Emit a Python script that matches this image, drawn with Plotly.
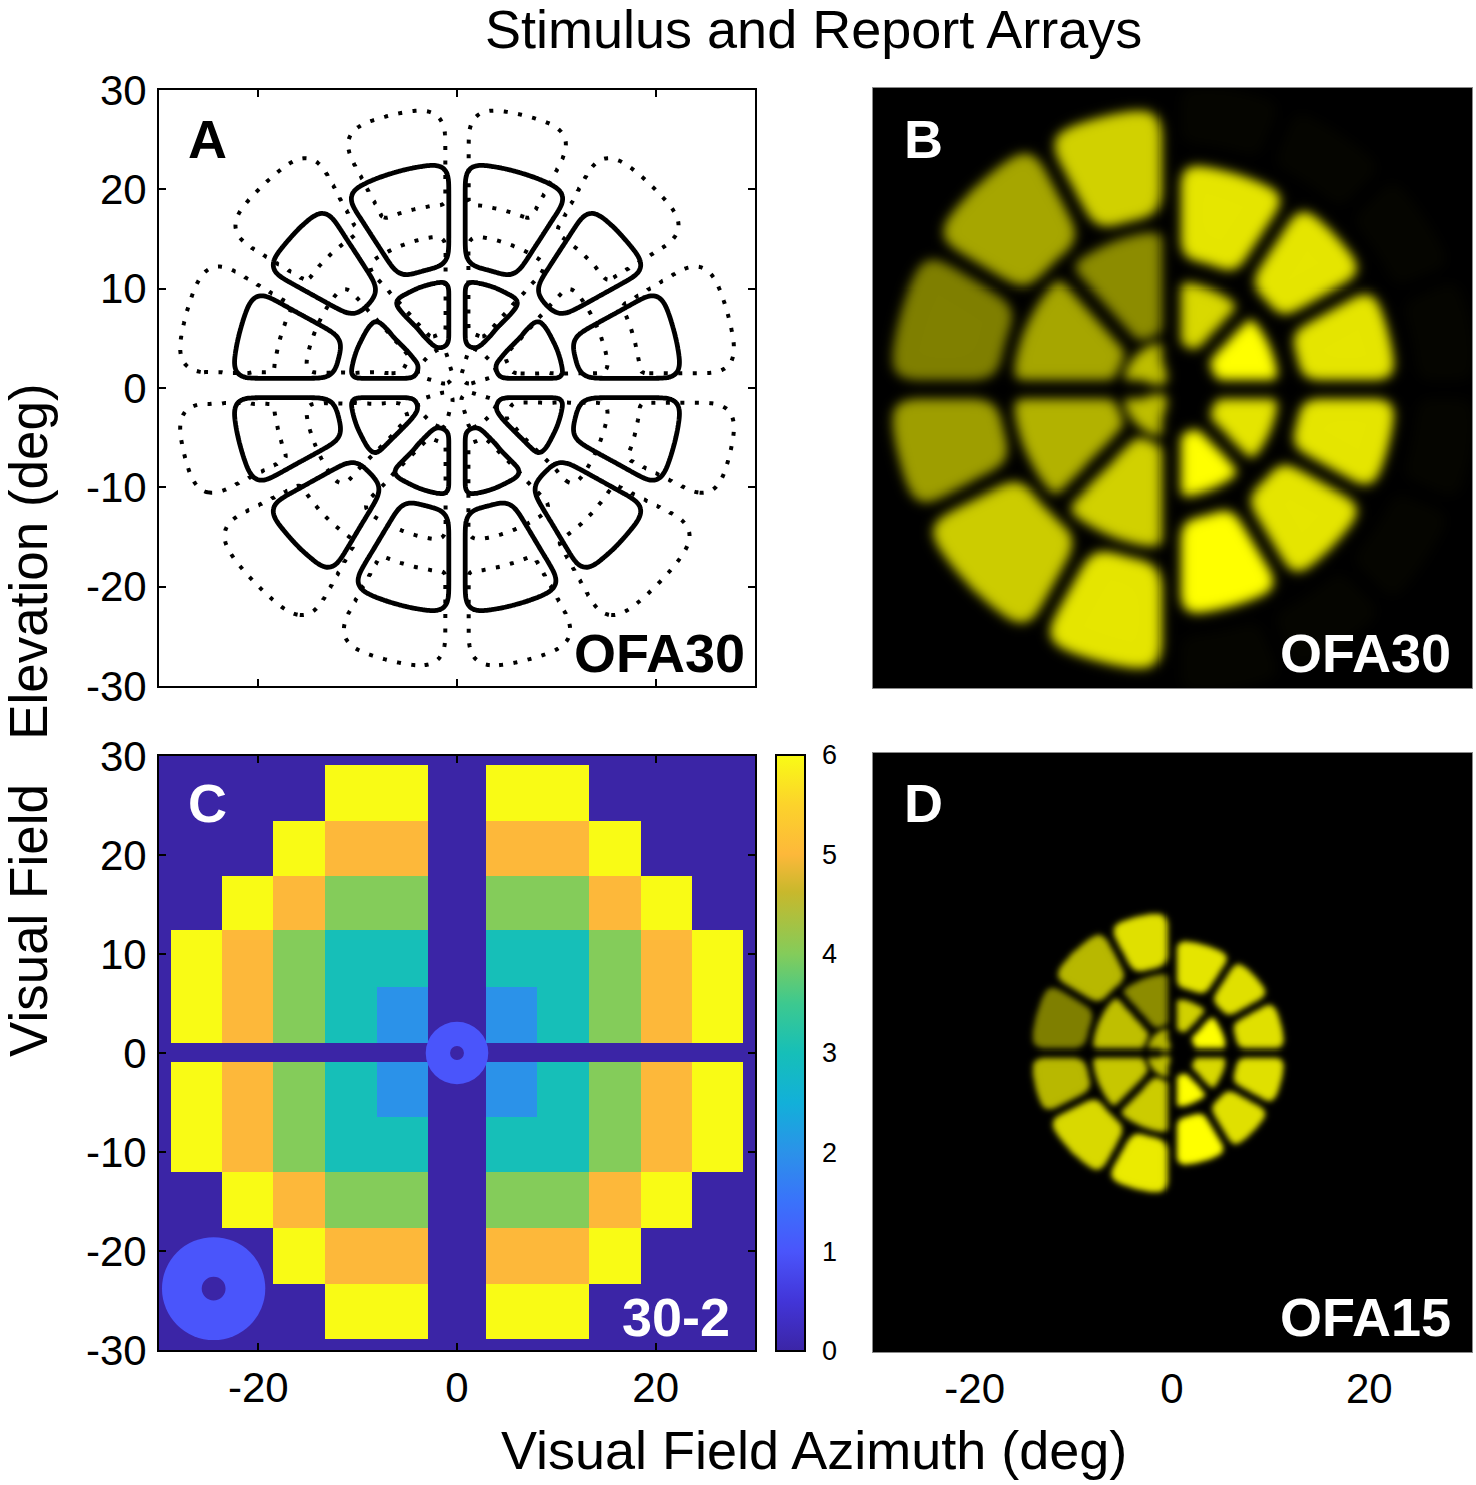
import numpy as np
import plotly.graph_objects as go

W, H = 1476, 1485
FONT = "Liberation Sans"

# Panel C: cell edges and report array levels (deg)
c_x_edges = [-30, -28.8, -23.7, -18.5, -13.3, -8.1, -2.9, 2.9, 8.1, 13.3, 18.5, 23.7, 28.8, 30]
c_y_edges = [-30, -28.9, -23.3, -17.7, -12.0, -6.5, -0.9, 1.0, 6.7, 12.4, 17.9, 23.4, 29.1, 30]
c_levels = [
    [0, 0, 0, 0, 0, 0, 0, 0, 0, 0, 0, 0, 0],
    [0, 0, 0, 0, 6, 6, 0, 6, 6, 0, 0, 0, 0],
    [0, 0, 0, 6, 5, 5, 0, 5, 5, 6, 0, 0, 0],
    [0, 0, 6, 5, 4, 4, 0, 4, 4, 5, 6, 0, 0],
    [0, 6, 5, 4, 3, 3, 0, 3, 3, 4, 5, 6, 0],
    [0, 6, 5, 4, 3, 2, 0, 2, 3, 4, 5, 6, 0],
    [0, 0, 0, 0, 0, 0, 0, 0, 0, 0, 0, 0, 0],
    [0, 6, 5, 4, 3, 2, 0, 2, 3, 4, 5, 6, 0],
    [0, 6, 5, 4, 3, 3, 0, 3, 3, 4, 5, 6, 0],
    [0, 0, 6, 5, 4, 4, 0, 4, 4, 5, 6, 0, 0],
    [0, 0, 0, 6, 5, 5, 0, 5, 5, 6, 0, 0, 0],
    [0, 0, 0, 0, 6, 6, 0, 6, 6, 0, 0, 0, 0],
    [0, 0, 0, 0, 0, 0, 0, 0, 0, 0, 0, 0, 0],
]
# Report discs: centre x, centre y, outer radius, hole radius
disc_x = [0, -24.5]
disc_y = [0, -23.8]
disc_r = [3.15, 5.2]
hole_r = [0.7, 1.2]

# OFA30 sector geometry: radii and angle edges per ring (deg)
left_radii = [(1.0, 4.9), (5.7, 16.0), (17.5, 28.5)]
left_edges = [[90, 180, 270],
              [90, 132, 180, 226, 270],
              [90, 118, 149, 180, 207, 241, 270]]
right_radii = [(4.6, 10.9), (13.2, 22.8), (25.0, 31.0)]
right_edges = [[-90, -46, 0, 47, 90],
               [-90, -59, -29, 0, 29, 57, 90],
               [-90, -67.5, -45, -22.5, 0, 22.5, 45, 67.5, 90]]

# Panel A outlines: radii, corner rounding and half gaps (interior, horizontal, vertical)
dotted_radii = [(1.0, 4.3), (5.7, 15.4), (18.5, 28.3)]
solid_radii = [(4.3, 10.8), (12.3, 22.6)]
dotted_round = [0.3, 0.6, 1.5]
solid_round = [0.45, 0.9]
dotted_gaps = (1.4, 1.5, 1.15)
solid_gaps = (1.15, 0.95, 0.8)

# Corner rounding per ring of the stimuli (deg)
left_round = [0.25, 0.5, 1.2]
right_round = [0.4, 0.9, 0.7]

# Brightness of each sector, counted anticlockwise from the first edge
b_left = [[0.75, 0.75],
          [0.55, 0.65, 0.70, 0.82],
          [0.82, 0.65, 0.50, 0.62, 0.80, 0.90]]
b_right = [[1.00, 0.90, 1.00, 0.85],
           [1.00, 0.90, 0.90, 0.90, 0.90, 0.90],
           [0.02, 0.02, 0.02, 0.02, 0.02, 0.02, 0.02, 0.02]]
d_left = [[0.72, 0.75],
          [0.55, 0.75, 0.78, 0.80],
          [0.88, 0.72, 0.50, 0.72, 0.85, 0.92]]
d_right = [[1.00, 0.85, 1.00, 0.82],
           [1.00, 0.88, 0.88, 0.88, 0.88, 0.90],
           [0, 0, 0, 0, 0, 0, 0, 0]]

parula = [
    [0, "#3b25a6"], [1 / 12, "#4235d8"], [1 / 6, "#4a55fb"], [1 / 4, "#3a72fb"],
    [1 / 3, "#2b92e9"], [5 / 12, "#12b0d9"], [1 / 2, "#16bfb8"], [7 / 12, "#3dc98f"],
    [2 / 3, "#84cc5a"], [0.77, "#c8b82c"], [5 / 6, "#fdb83a"], [11 / 12, "#fcd32b"],
    [1, "#f9fb15"],
]
bar_ticks = [0, 1, 2, 3, 4, 5, 6]


def blur(z, sigma, step):
    n = int(4 * sigma / step) + 1
    k = np.exp(-0.5 * (np.arange(-n, n + 1) * step / sigma) ** 2)
    k /= k.sum()
    z = np.apply_along_axis(lambda v: np.convolve(v, k, mode="same"), 0, z)
    return np.apply_along_axis(lambda v: np.convolve(v, k, mode="same"), 1, z)


def edge_gap(a, gaps):
    if a % 180 == 0:
        return gaps[1]
    if a % 90 == 0:
        return gaps[2]
    return gaps[0]


def sector(xx, yy, r0, r1, a0, a1, gaps):
    r = np.hypot(xx, yy)
    th = np.degrees(np.arctan2(yy, xx))
    th = np.where(th < -90, th + 360, th)
    d0 = r * np.sin(np.radians(th - a0))
    d1 = r * np.sin(np.radians(a1 - th))
    return (th >= a0) & (th <= a1) & (r >= r0) & (r <= r1) \
        & (d0 >= np.minimum(edge_gap(a0, gaps), 0.3 * r)) & (d1 >= np.minimum(edge_gap(a1, gaps), 0.3 * r))


def stimulus(values_left, values_right, scale, sigma):
    ax = np.linspace(-30.5, 30.5, 601)
    step = ax[1] - ax[0]
    xx, yy = np.meshgrid(ax, ax)
    z = np.zeros_like(xx)
    gaps = (0.85 * scale, 1.0 * scale, 0.95 * scale)
    sides = [(left_radii, left_edges, values_left, left_round),
             (right_radii, right_edges, values_right, right_round)]
    for radii, edges, vals, rnd in sides:
        for (r0, r1), ed, vv, s in zip(radii, edges, vals, rnd):
            for a0, a1, v in zip(ed[:-1], ed[1:], vv):
                if v == 0:
                    continue
                m = sector(xx, yy, r0 * scale, r1 * scale, a0, a1, gaps)
                m = blur(m.astype(float), s * scale, step) > 0.5
                z[m] = v
    return ax, np.round(blur(z, sigma, step) * 255).astype(np.uint8)


def outline(radii, edges, sigmas, gaps, outer_only=False):
    ax = np.linspace(-30, 30, 401)
    step = ax[1] - ax[0]
    xx, yy = np.meshgrid(ax, ax)
    z = np.zeros_like(xx)
    for (r0, r1), ed, s in zip(radii, edges, sigmas):
        # the edges of one half are mirrored into the other half
        both = sorted(set(ed) | {180 - a for a in ed})
        for a0, a1 in zip(both[:-1], both[1:]):
            if outer_only:
                # round only the far corners, the inner side stays square
                m = blur(sector(xx, yy, r0 - 4, r1, a0, a1, gaps).astype(float), s, step)
                m = np.minimum(m, blur(sector(xx, yy, r0, r1 + 4, a0, a1, gaps).astype(float), 0.3, step))
            else:
                m = blur(sector(xx, yy, r0, r1, a0, a1, gaps).astype(float), s, step)
            z = np.maximum(z, m)
    return ax, np.round(z, 3)


def dom_x(a, b):
    return [a / W, b / W]


def dom_y(top, bottom):
    return [1 - bottom / H, 1 - top / H]


fig = go.Figure()

# A: dotted and solid outlines
ax_d, z_d = outline(dotted_radii, left_edges, dotted_round, dotted_gaps, outer_only=True)
ax_s, z_s = outline(solid_radii, right_edges[:2], solid_round, solid_gaps)
fig.add_trace(go.Contour(x=ax_d, y=ax_d, z=z_d, autocontour=False, showscale=False, hoverinfo="skip",
                         contours=dict(start=0.5, end=0.5, size=1, coloring="none"),
                         line=dict(color="black", width=4, dash="4px,10.5px"),
                         xaxis="x", yaxis="y"))
fig.add_trace(go.Contour(x=ax_s, y=ax_s, z=z_s, autocontour=False, showscale=False, hoverinfo="skip",
                         contours=dict(start=0.5, end=0.5, size=1, coloring="none"),
                         line=dict(color="black", width=4.8),
                         xaxis="x", yaxis="y"))

# B and D: blurred stimuli
yellow = [[0, "#000000"], [1, "#ffff00"]]
ax_b, z_b = stimulus(b_left, b_right, 1.0, 0.55)
fig.add_trace(go.Heatmap(x=ax_b, y=ax_b, z=z_b, zmin=0, zmax=255, colorscale=yellow, showscale=False,
                         hoverinfo="skip", xaxis="x2", yaxis="y2"))
ax_e, z_e = stimulus(d_left, d_right, 0.5, 0.3)
fig.add_trace(go.Heatmap(x=ax_e, y=ax_e, z=z_e, zmin=0, zmax=255, colorscale=yellow, showscale=False,
                         hoverinfo="skip", xaxis="x4", yaxis="y4"))

# C: report array with colour bar
fig.add_trace(go.Heatmap(x=c_x_edges, y=c_y_edges, z=c_levels, zmin=0, zmax=6, colorscale=parula,
                         hoverinfo="skip", xaxis="x3", yaxis="y3",
                         colorbar=dict(x=776 / W, xanchor="left", xpad=0, ypad=0,
                                       y=1 - 1053 / H, yanchor="middle",
                                       lenmode="pixels", len=596, thicknessmode="pixels", thickness=29,
                                       outlinecolor="black", outlinewidth=2,
                                       tickvals=bar_ticks, ticks="outside", ticklen=11,
                                       tickwidth=1, tickcolor="rgba(0,0,0,0)",
                                       tickfont=dict(family=FONT, size=27, color="black"))))

shapes = []
for cx, cy, ro, ri in zip(disc_x, disc_y, disc_r, hole_r):
    shapes.append(dict(type="circle", xref="x3", yref="y3", x0=cx - ro, x1=cx + ro, y0=cy - ro, y1=cy + ro,
                       fillcolor="#4a55fb", line=dict(width=0)))
    shapes.append(dict(type="circle", xref="x3", yref="y3", x0=cx - ri, x1=cx + ri, y0=cy - ri, y1=cy + ri,
                       fillcolor="#3b25a6", line=dict(width=0)))
# colour bar ticks sit inside the bar, on its right edge
for v in bar_ticks[1:-1]:
    shapes.append(dict(type="line", xref="paper", yref="y3", x0=800 / W, x1=805 / W, y0=v * 10 - 30, y1=v * 10 - 30,
                       line=dict(color="black", width=2)))

box = dict(showline=True, linecolor="black", linewidth=2, mirror="ticks", ticks="inside", ticklen=7,
           tickwidth=2, tickcolor="black", showgrid=False, zeroline=False,
           tickfont=dict(family=FONT, size=42, color="black"))
plain = dict(showline=True, linecolor="#8a8a8a", linewidth=1, mirror=True, ticks="", showgrid=False,
             zeroline=False, tickfont=dict(family=FONT, size=42, color="black"))
x_ticks = [-20, 0, 20]
x_labels = ["-20", "0", "20"]
y_ticks = [-30, -20, -10, 0, 10, 20, 30]
y_labels = ["-30", "-20", "-10", "0", "10", "20", "30"]

fig.update_layout(
    width=W, height=H, margin=dict(l=0, r=0, t=0, b=0, autoexpand=False), autosize=False,
    paper_bgcolor="white", plot_bgcolor="white", showlegend=False, shapes=shapes,
    xaxis=dict(box, domain=dom_x(159, 755), range=[-30, 30], tickvals=x_ticks, showticklabels=False, anchor="y"),
    yaxis=dict(box, domain=dom_y(90, 686), range=[-30, 30], tickvals=y_ticks, ticktext=y_labels, anchor="x",
               ticklabelstandoff=2),
    xaxis2=dict(plain, domain=dom_x(873, 1472), range=[-30.2, 30.5], showticklabels=False, anchor="y2"),
    yaxis2=dict(plain, domain=dom_y(88, 688), range=[-30.2, 30.5], showticklabels=False, anchor="x2"),
    xaxis3=dict(box, domain=dom_x(159, 755), range=[-30, 30], tickvals=x_ticks, ticktext=x_labels, anchor="y3"),
    yaxis3=dict(box, domain=dom_y(756, 1350), range=[-30, 30], tickvals=y_ticks, ticktext=y_labels, anchor="x3",
                ticklabelstandoff=2),
    xaxis4=dict(plain, domain=dom_x(873, 1472), range=[-30.3, 30.4], tickvals=x_ticks, ticktext=x_labels, anchor="y4"),
    yaxis4=dict(plain, domain=dom_y(753, 1352), range=[-30.3, 30.4], showticklabels=False, anchor="x4"),
)

texts = [
    ("Stimulus and Report Arrays", 814, 29, 54, False, "black", 0),
    ("Visual Field Azimuth (deg)", 814, 1450, 54, False, "black", 0),
    ("Visual Field   Elevation (deg)", 28, 720, 53, False, "black", -90),
    ("A", 207, 139, 54, True, "black", 0),
    ("B", 923, 139, 54, True, "white", 0),
    ("C", 207, 803, 54, True, "white", 0),
    ("D", 923, 803, 54, True, "white", 0),
    ("OFA30", 659, 653, 54, True, "black", 0),
    ("OFA30", 1365, 653, 54, True, "white", 0),
    ("OFA15", 1365, 1317, 54, True, "white", 0),
    ("30-2", 676, 1317, 54, True, "white", 0),
]
for t, px, py, size, bold, col, rot in texts:
    fig.add_annotation(text=f"<b>{t}</b>" if bold else t, xref="paper", yref="paper",
                       x=px / W, y=1 - py / H, xanchor="center", yanchor="middle", showarrow=False,
                       textangle=rot, font=dict(family=FONT, size=size, color=col))

fig.write_html("out.html", config=dict(displayModeBar=False),
               post_script="document.body.style.margin='0';document.documentElement.style.overflow='hidden';")
